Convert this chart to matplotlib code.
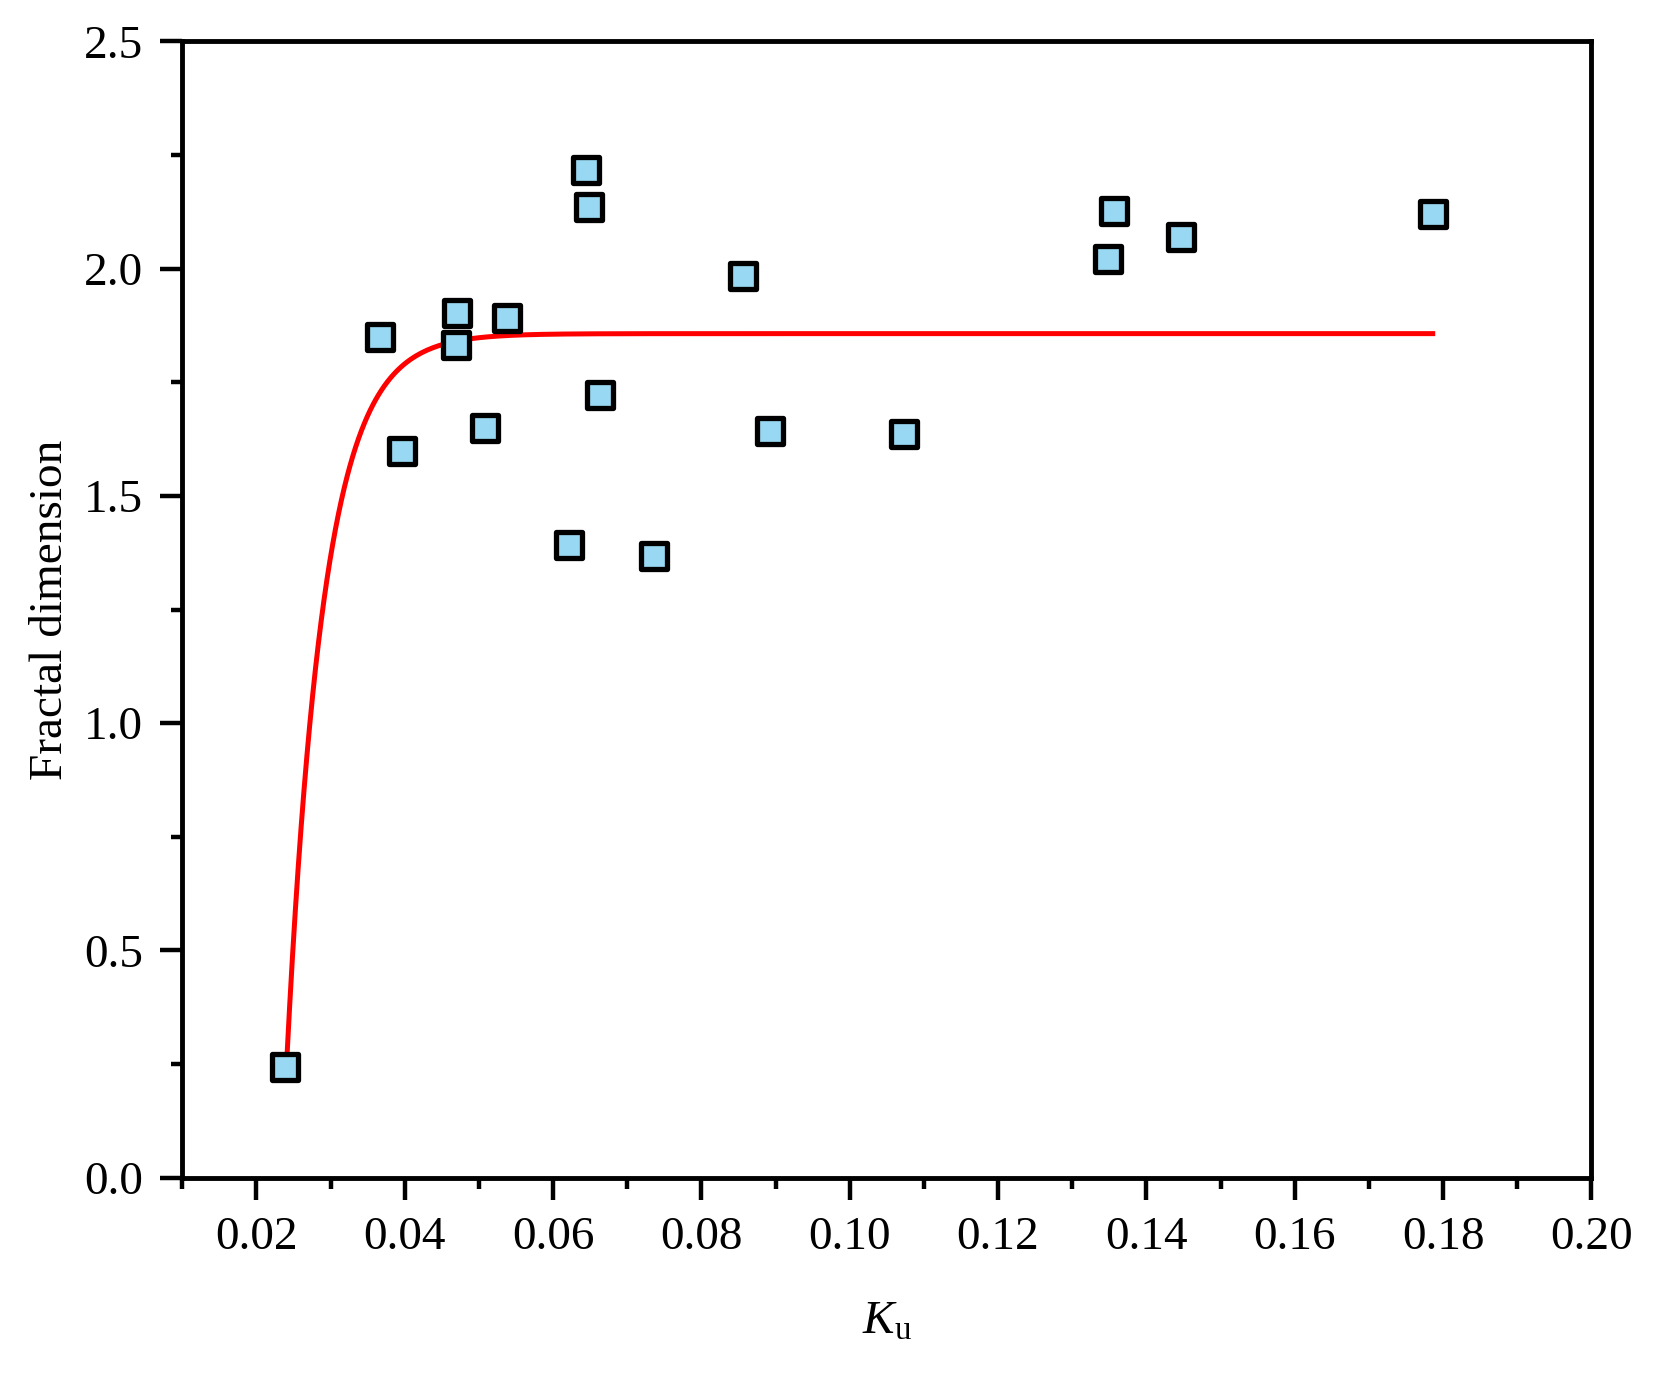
import numpy as np
import matplotlib.pyplot as plt
from matplotlib.ticker import MultipleLocator

# measured points
ku = [0.0238, 0.0367, 0.0396, 0.0470, 0.0469, 0.0508, 0.0538, 0.0622, 0.0645, 0.0648,
      0.0663, 0.0736, 0.0856, 0.0893, 0.1073, 0.1348, 0.1356, 0.1446, 0.1786]
fd = [0.244, 1.849, 1.598, 1.902, 1.833, 1.649, 1.891, 1.393, 2.216, 2.135,
      1.721, 1.367, 1.984, 1.642, 1.637, 2.021, 2.126, 2.070, 2.121]

# exponential fit y = A - B*exp(-(x - x0)/t)
fit_A = 1.857
fit_B = 1.60
fit_t = 0.0050
fit_x0 = 0.0241
fit_x1 = 0.1786

plt.rcParams['font.family'] = ['Liberation Serif', 'DejaVu Serif']
plt.rcParams['mathtext.fontset'] = 'custom'
plt.rcParams['mathtext.rm'] = 'Liberation Serif'
plt.rcParams['mathtext.it'] = 'Liberation Serif:italic'

fig = plt.figure(figsize=(16.56, 13.79), dpi=100)
ax = fig.add_axes([0.110, 0.146, 0.851, 0.824])

xs = np.linspace(fit_x0, fit_x1, 400)
ys = fit_A - fit_B * np.exp(-(xs - fit_x0) / fit_t)
ax.plot(xs, ys, color='#ff0000', lw=3.6, zorder=2)

ax.scatter(ku, fd, marker='s', s=330, facecolor='#99d8f2', edgecolor='black',
           linewidth=3.8, zorder=3)

ax.set_xlim(0.01, 0.20)
ax.set_ylim(0, 2.5)
ax.xaxis.set_minor_locator(MultipleLocator(0.01))
ax.yaxis.set_minor_locator(MultipleLocator(0.25))
ax.set_xticks(np.arange(0.02, 0.201, 0.02))
ax.set_xticklabels([f'{v:.2f}' for v in np.arange(0.02, 0.201, 0.02)])
ax.set_yticks(np.arange(0, 2.51, 0.5))
ax.set_yticklabels([f'{v:.1f}' for v in np.arange(0, 2.51, 0.5)])

for s in ax.spines.values():
    s.set_linewidth(3.5)
ax.tick_params(which='major', direction='out', length=16, width=3.2,
               labelsize=34, pad=12)
ax.tick_params(which='minor', direction='out', length=8, width=3.2)

ax.set_xlabel(r'$K_{\mathrm{u}}$', fontsize=34, labelpad=30)
ax.set_ylabel('Fractal dimension', fontsize=34, labelpad=9)

fig.savefig('out.png', dpi=100)
